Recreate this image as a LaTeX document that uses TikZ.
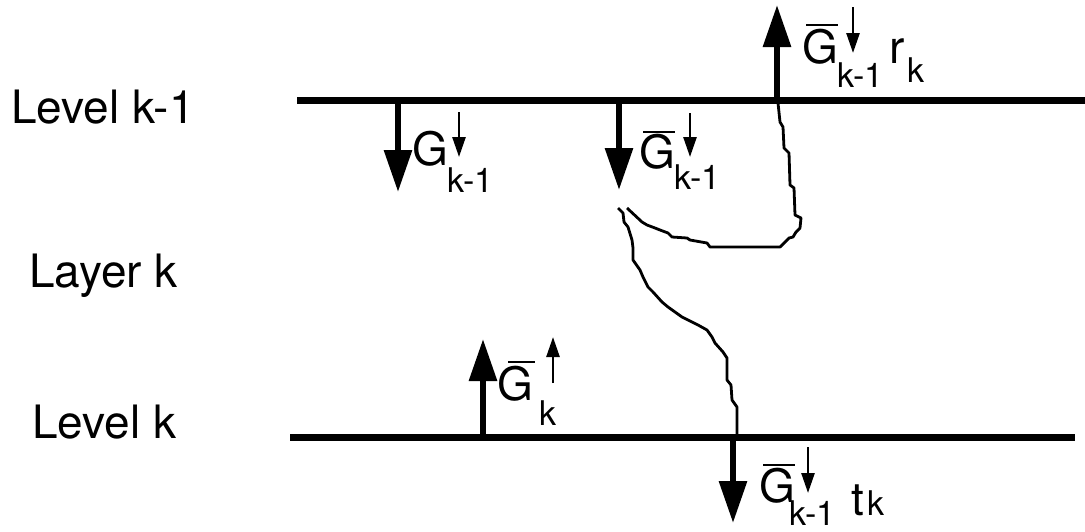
\documentclass[tikz,border=0pt]{standalone}
\usepackage{fontspec}
\setmainfont{TeX Gyre Heros}
\usetikzlibrary{arrows.meta,calc}

\begin{document}
\begin{tikzpicture}[
    x=0.5pt, y=-0.5pt,
    level/.style={line width=3.5pt},
    flux/.style={-{Triangle[length=21pt,width=13.5pt]}, line width=3pt},
    spin/.style={-{Triangle[length=10pt,width=6.5pt]}, line width=1.3pt},
    bar/.style={line width=1.2pt},
    ray/.style={line width=1.4pt, line join=round},
    lbl/.style={anchor=base west, inner sep=0pt, font=\fontsize{23}{27}\selectfont},
    sublbl/.style={anchor=base west, inner sep=0pt, font=\fontsize{17}{20}\selectfont}
]
\useasboundingbox (0,0) rectangle (1085,531);

% Nomes dos niveis
\node[lbl] (lvlprev) at (11,123) {Level k-1};
\node[lbl] (layer) at (29,287) {Layer k};
\node[lbl] (lvlcur) at (32,438) {Level k};

% Niveis
\coordinate (topL) at (297,100);
\coordinate (topR) at (1085,100);
\coordinate (botL) at (290,437);
\coordinate (botR) at (1075,437);
\draw[level] (topL) -- (topR);
\draw[level] (botL) -- (botR);

% Fluxos
\coordinate (s1) at (398,100);
\coordinate (e1) at (398,192);
\coordinate (s2) at (619,100);
\coordinate (e2) at (619,190);
\coordinate (s3) at (777,100);
\coordinate (e3) at (777,5);
\coordinate (s4) at (483,437);
\coordinate (e4) at (483,339);
\coordinate (s5) at (733,437);
\coordinate (e5) at (733,523);
\draw[flux] (s1) -- (e1);
\draw[flux] (s2) -- (e2);
\draw[flux] (s3) -- (e3);
\draw[flux] (s4) -- (e4);
\draw[flux] (s5) -- (e5);

% Rotulos
\node[lbl] (g1) at (412,165) {G};
\node[sublbl] (g1sub) at (447,192) {k-1};
\draw[spin] (459,112) -- (459,157);

\node[lbl] (g2) at (639,168) {G};
\draw[bar] (643,132) -- (675,132);
\node[sublbl] (g2sub) at (674,189) {k-1};
\draw[spin] (690,113) -- (690,157);

\node[lbl] (g3) at (802,63) {G};
\draw[bar] (806,25) -- (838,25);
\node[sublbl] (g3sub) at (837,87) {k-1};
\draw[spin] (853,7) -- (853,53);
\node[lbl] (r3) at (889,63) {r};
\node[sublbl] (r3sub) at (907,82) {k};

\node[lbl] (g4) at (497,400) {G};
\draw[bar] (508,362) -- (535,362);
\node[sublbl] (g4sub) at (539,425) {k};
\draw[spin] (553,383) -- (553,337);

\node[lbl] (g5) at (759,502) {G};
\draw[bar] (763,465) -- (795,465);
\node[sublbl] (g5sub) at (789,525) {k-1};
\draw[spin] (808,447) -- (808,493);
\node[lbl] (t5) at (851,515) {t};
\node[sublbl] (t5sub) at (867,515) {k};

% Caminhos
\draw[ray] (s3) -- (778,103) -- (780,122) -- (783,127) -- (784,148) -- (789,153)
  -- (790,185) -- (794,188) -- (795,215) -- (801,218) -- (800,228) -- (796,232)
  -- (793,237) -- (789,238) -- (780,247) -- (710,247) -- (707,243) -- (690,240)
  -- (687,238) -- (672,237) -- (668,233) -- (660,230) -- (655,228) -- (647,225)
  -- (642,222) -- (627,208);
\draw[ray] (618,208) -- (623,213) -- (624,222) -- (628,227) -- (632,240) -- (633,248)
  -- (633,260) -- (640,270) -- (643,277) -- (648,287) -- (653,292) -- (662,302)
  -- (668,307) -- (675,312) -- (682,317) -- (692,322) -- (698,325) -- (707,330)
  -- (712,337) -- (715,343) -- (723,352) -- (727,358) -- (727,380) -- (731,385)
  -- (732,400) -- (737,407) -- (737,437);

\end{tikzpicture}
\end{document}
